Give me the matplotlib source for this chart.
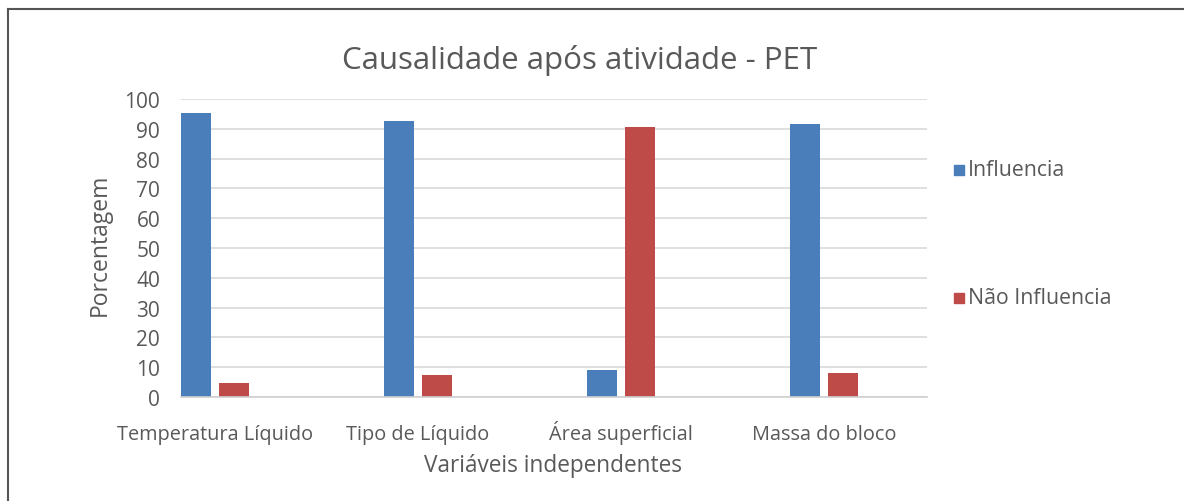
import matplotlib
matplotlib.use("Agg")
import matplotlib.pyplot as plt
import numpy as np
from matplotlib.lines import Line2D

categories = ["Temperatura Líquido", "Tipo de Líquido", "Área superficial", "Massa do bloco"]
influencia = [95.3, 92.7, 9.0, 91.7]
nao_influencia = [4.6, 7.3, 90.5, 8.2]
yticks = [0, 10, 20, 30, 40, 50, 60, 70, 80, 90, 100]

plt.rcParams['font.family'] = ['Open Sans', 'DejaVu Sans']
txt = "#595959"
blue = "#4a7ebb"
red = "#be4b48"

W, H = 1184, 502
fig = plt.figure(figsize=(W / 100, H / 100), dpi=100)
ax = fig.add_axes([181 / W, 1 - 398 / H, (927 - 181) / W, (398 - 100) / H])

x = np.arange(len(categories))
bw = 0.148
off = 0.092
ax.bar(x - off, influencia, bw, color=blue, label="Influencia", zorder=3)
ax.bar(x + off, nao_influencia, bw, color=red, label="Não Influencia", zorder=3)

ax.set_xlim(-0.167, 3.507)
ax.set_ylim(0, 100)
ax.set_yticks(yticks)
ax.set_xticks(x)
ax.set_xticklabels(categories, fontsize=14.3, color=txt, va="baseline")
ax.tick_params(axis='y', labelsize=15, labelcolor=txt, length=0, pad=15)
ax.tick_params(axis='x', length=0, pad=30)
ax.grid(axis='y', color="#d9d9d9", linewidth=1.2, zorder=0)
for s in ["top", "right", "left"]:
    ax.spines[s].set_visible(False)
ax.spines["bottom"].set_color("#d0d0d0")
ax.spines["bottom"].set_linewidth(1.2)
ax.spines["bottom"].set_zorder(4)

fig.text(100 / W, 1 - 245 / H, "Porcentagem", fontsize=16.5, color=txt,
         rotation=90, ha="center", va="center")
fig.text(553 / W, 1 - 466 / H, "Variáveis independentes", fontsize=16.3, color=txt,
         ha="center", va="center")

fig.text(580 / W, 1 - 60 / H, "Causalidade após atividade - PET", fontsize=22.5,
         color=txt, ha="center", va="center")

# legend entries
for ypix, lab, col in [(171, "Influencia", blue), (299, "Não Influencia", red)]:
    fig.patches.append(plt.Rectangle((954 / W, 1 - (ypix + 5) / H), 10 / W, 10 / H,
                                     transform=fig.transFigure, color=col))
    fig.text(968 / W, 1 - ypix / H, lab, fontsize=15.3, color=txt, ha="left", va="center")

# frame lines (top and left)
fig.add_artist(Line2D([7.5 / W, 1], [1 - 10 / H, 1 - 10 / H], transform=fig.transFigure,
                      color="#555555", linewidth=1.5))
fig.add_artist(Line2D([7.5 / W, 7.5 / W], [0, 1 - 10 / H], transform=fig.transFigure,
                      color="#555555", linewidth=1.5))

fig.savefig("out.png", dpi=100, facecolor="white")
